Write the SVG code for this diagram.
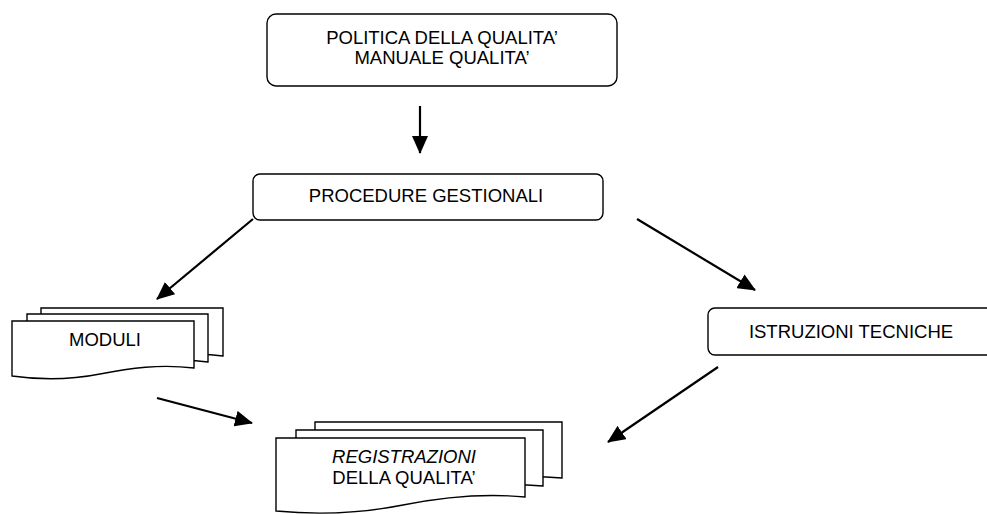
<svg xmlns="http://www.w3.org/2000/svg" width="987" height="514" viewBox="0 0 987 514">
<defs>
<marker id="ah" markerUnits="userSpaceOnUse" markerWidth="18" markerHeight="16" refX="17" refY="8" orient="auto"><path d="M0,0 L18,8 L0,16 z" fill="#000"/></marker>
<style>
.box{fill:#fff;stroke:#000;stroke-width:1.4}
.t{font-family:"Liberation Sans",Arial,sans-serif;font-size:18.5px;fill:#000;text-anchor:middle}
.it{font-style:italic}
.c{stroke:#000;stroke-width:2.2;fill:none;marker-end:url(#ah)}
</style>
</defs>
<rect width="987" height="514" fill="#fff"/>
<g id="politica">
<rect class="box" x="267" y="14" width="350" height="72" rx="9"/>
<text class="t" x="442" y="44">POLITICA DELLA QUALITA’</text>
<text class="t" x="442" y="64">MANUALE QUALITA’</text>
</g>
<g id="procedure">
<rect class="box" x="253" y="174" width="350" height="46" rx="7"/>
<text class="t" x="426" y="202">PROCEDURE GESTIONALI</text>
</g>
<g id="istruzioni">
<rect class="box" x="708" y="308" width="290" height="47" rx="7"/>
<text class="t" x="851" y="338">ISTRUZIONI TECNICHE</text>
</g>
<g id="moduli">
<path class="box" d="M41,308 H223 V356 C190,352 160,356 130,362 C100,368 70,368 41,364 Z"/>
<path class="box" d="M27,314 H208 V362 C175,358 145,362 115,368 C85,374 55,374 27,370 Z"/>
<path class="box" d="M12,321 H194 V368 C160,364 130,368 100,374 C70,380 40,380 12,376 Z"/>
<text class="t" x="105" y="346">MODULI</text>
</g>
<g id="registrazioni">
<path class="box" d="M315,422 H562 V478 C520,474 480,478 440,486 C400,494 355,496 315,492 Z"/>
<path class="box" d="M296,430 H543 V486 C501,482 461,486 421,494 C381,502 336,504 296,500 Z"/>
<path class="box" d="M276,438 H525 V497 C483,493 443,497 403,505 C363,513 318,515 276,511 Z"/>
<text class="t it" x="404" y="463">REGISTRAZIONI</text>
<text class="t" x="404" y="484">DELLA QUALITA’</text>
</g>
<g id="connectors">
<line class="c" x1="420" y1="106" x2="420" y2="153"/>
<line class="c" x1="253" y1="219" x2="157" y2="299"/>
<line class="c" x1="637" y1="219" x2="755" y2="290"/>
<line class="c" x1="157" y1="398" x2="252" y2="423"/>
<line class="c" x1="718" y1="367" x2="608" y2="442"/>
</g>
</svg>
